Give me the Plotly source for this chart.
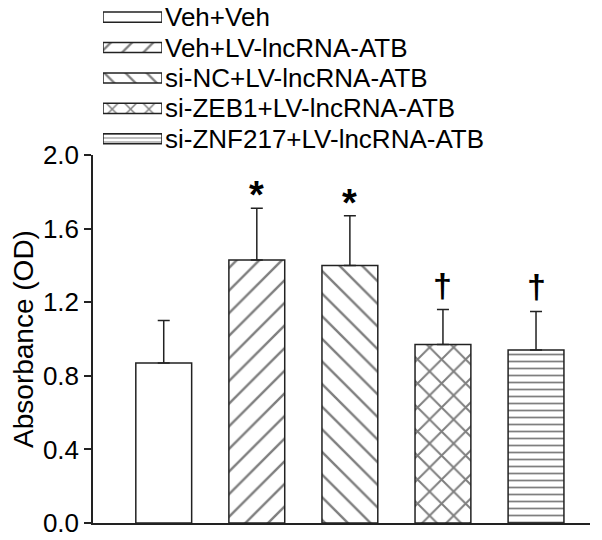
import plotly.graph_objects as go

groups = ["Veh+Veh", "Veh+LV-lncRNA-ATB", "si-NC+LV-lncRNA-ATB",
          "si-ZEB1+LV-lncRNA-ATB", "si-ZNF217+LV-lncRNA-ATB"]
absorbance = [0.87, 1.43, 1.40, 0.97, 0.94]
sd = [0.23, 0.28, 0.27, 0.19, 0.21]
marks = ["", "*", "*", "\u2020", "\u2020"]
yticks = [0.0, 0.4, 0.8, 1.2, 1.6, 2.0]

shapes = ["", "/", "\\", "x", "-"]
sizes = [16, 16, 16, 17, 7]
solid = [0.15, 0.15, 0.15, 0.22, 0.25]

font = "Arial, Liberation Sans, sans-serif"
ink = "#222222"

fig = go.Figure()

# main bars
fig.add_trace(go.Bar(
    x=groups, y=absorbance, width=0.6,
    marker=dict(color="white", line=dict(color=ink, width=1.5),
                pattern=dict(shape=shapes, size=sizes, solidity=solid,
                             fgcolor="black", bgcolor="white", fillmode="overlay")),
    error_y=dict(type="data", symmetric=False, array=sd, arrayminus=[0] * 5,
                 color=ink, thickness=1.5, width=6),
    showlegend=False, xaxis="x", yaxis="y"))

# legend drawn as small horizontal bars
fig.add_trace(go.Bar(
    y=groups, x=[1] * 5, orientation="h", width=0.33,
    marker=dict(color="white", line=dict(color=ink, width=1.5),
                pattern=dict(shape=shapes, size=[15, 15, 15, 13, 4], solidity=solid,
                             fgcolor="black", bgcolor="white", fillmode="overlay")),
    text=groups, textposition="outside", constraintext="none", cliponaxis=False,
    textfont=dict(size=26, color="black", family=font),
    showlegend=False, xaxis="x2", yaxis="y2"))

for g, v, e, m in zip(groups, absorbance, sd, marks):
    if not m:
        continue
    star = m == "*"
    fig.add_annotation(x=g, y=v + e, xref="x", yref="y", text=m, showarrow=False,
                       yanchor="middle", yshift=13 if star else 25,
                       font=dict(size=38 if star else 34, color="black",
                                 family=font, weight="bold"))

fig.update_layout(
    width=602, height=540,
    margin=dict(l=85, r=20, t=0, b=25, autoexpand=False),
    plot_bgcolor="white", paper_bgcolor="white",
    font=dict(family=font, color="black"),
    xaxis=dict(domain=[0, 1], range=[-0.76, 4.58], showticklabels=False,
               ticks="", showline=True, linecolor=ink, linewidth=1.5,
               showgrid=False, zeroline=False, automargin=False),
    yaxis=dict(domain=[0, 368 / 515], range=[0, 2.0], tickvals=yticks,
               tickformat=".1f", ticks="outside", ticklen=7, tickwidth=1.5,
               tickcolor=ink, showline=True, linecolor=ink, linewidth=1.5,
               showgrid=False, zeroline=False, automargin=False,
               tickfont=dict(size=26, color="black"),
               title=dict(text="Absorbance (OD)", standoff=8,
                          font=dict(size=28, color="black"))),
    xaxis2=dict(domain=[10 / 497, 69 / 497], range=[0, 1], anchor="y2",
                visible=False),
    yaxis2=dict(domain=[369 / 515, 1], range=[4.5, -0.3], anchor="x2",
                visible=False),
)

fig.write_html("out.html")
